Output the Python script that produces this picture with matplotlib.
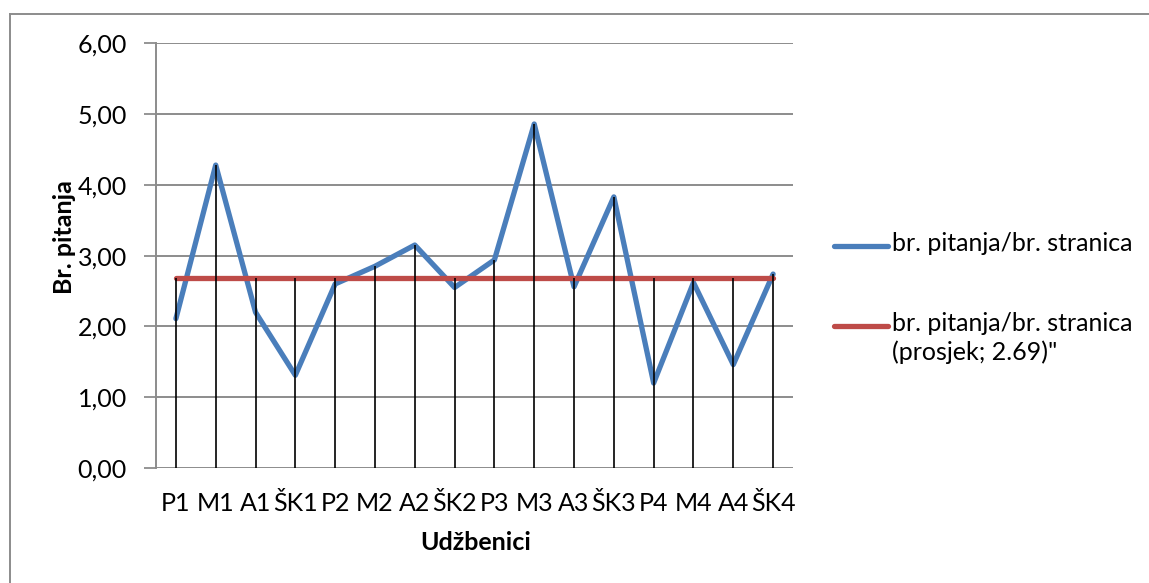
import matplotlib
matplotlib.use("Agg")
import matplotlib.pyplot as plt
import numpy as np
from matplotlib.lines import Line2D

categories = ["P1", "M1", "A1", "ŠK1", "P2", "M2", "A2", "ŠK2",
              "P3", "M3", "A3", "ŠK3", "P4", "M4", "A4", "ŠK4"]
ratio = [2.11, 4.28, 2.20, 1.31, 2.60, 2.85, 3.15, 2.55,
         2.94, 4.86, 2.56, 3.83, 1.20, 2.62, 1.46, 2.74]
average = 2.69
yticks = [0, 1, 2, 3, 4, 5, 6]
ytick_labels = ["0,00", "1,00", "2,00", "3,00", "4,00", "5,00", "6,00"]
series_labels = ["br. pitanja/br. stranica",
                 "br. pitanja/br. stranica\n(prosjek; 2.69)\""]

FONT = "Lato"
FS = 18
BLUE = "#4A7EBB"
RED = "#BE4B48"
GRID = "#8C8C8C"

W, H = 1149, 583
fig = plt.figure(figsize=(W / 100, H / 100), dpi=100)
ax = fig.add_axes([156 / W, 1 - 468 / H, 637 / W, (468 - 43.3) / H])

x = np.arange(len(categories))
ratio_arr = np.array(ratio)
avg_arr = np.full(len(categories), average)

ax.set_xlim(-0.5, len(categories) - 0.5)
ax.set_ylim(0, 6)
ax.set_yticks(yticks)
ax.set_yticklabels(ytick_labels, fontsize=FS, family=FONT)
ax.set_xticks(x)
ax.set_xticklabels(categories, fontsize=FS, family=FONT)
ax.tick_params(axis="x", length=0, pad=17)
ax.tick_params(axis="y", length=9, width=1.3, color=GRID, pad=12)

ax.grid(axis="y", color=GRID, linewidth=1.4, zorder=0)
ax.set_axisbelow(True)
for s in ["top", "right", "bottom"]:
    ax.spines[s].set_visible(False)
ax.spines["left"].set_color(GRID)
ax.spines["left"].set_linewidth(1.4)

ax.plot(x, ratio_arr, color=BLUE, linewidth=3.8, solid_capstyle="round",
        solid_joinstyle="round", zorder=3)
ax.plot(x, avg_arr, color=RED, linewidth=3.8, solid_capstyle="round", zorder=4)
ax.vlines(x, 0, np.maximum(ratio_arr, avg_arr), color="black", linewidth=1.2, zorder=5)

fig.text(64 / W, 1 - 237 / H, "Br. pitanja", rotation=90, ha="center", va="center",
         fontsize=FS, fontweight="bold", family=FONT)
fig.text(476 / W, 1 - 543 / H, "Udžbenici", ha="center", va="center",
         fontsize=FS, fontweight="bold", family=FONT)

# legend
for (yy, col, lab) in [(246, BLUE, series_labels[0]), (326, RED, series_labels[1])]:
    fig.add_artist(Line2D([834 / W, 888 / W], [1 - yy / H, 1 - yy / H], color=col,
                          linewidth=3.8, solid_capstyle="round"))
    fig.text(892 / W, 1 - (yy - 14) / H, lab, ha="left", va="top", fontsize=FS,
             family=FONT, linespacing=1.3)

# outer border (left and top)
fig.add_artist(Line2D([10 / W, 10 / W], [0, 1 - 13.5 / H], color="#8C8C8C", linewidth=1.4))
fig.add_artist(Line2D([10 / W, 1], [1 - 13.5 / H, 1 - 13.5 / H], color="#8C8C8C", linewidth=1.4))

fig.savefig("out.png", dpi=100)
